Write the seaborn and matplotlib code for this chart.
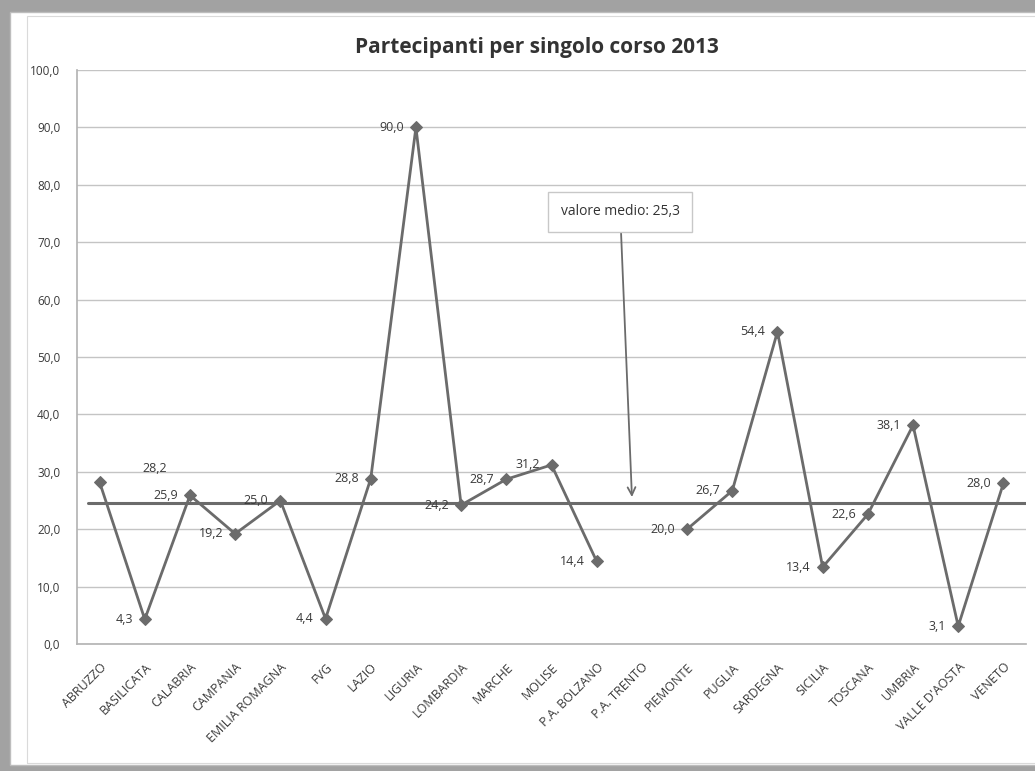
import numpy as np
import pandas as pd
import matplotlib
matplotlib.use("Agg")
import matplotlib.pyplot as plt
from matplotlib.patches import Rectangle
import seaborn as sns

regions = ["ABRUZZO", "BASILICATA", "CALABRIA", "CAMPANIA", "EMILIA ROMAGNA", "FVG",
           "LAZIO", "LIGURIA", "LOMBARDIA", "MARCHE", "MOLISE", "P.A. BOLZANO",
           "P.A. TRENTO", "PIEMONTE", "PUGLIA", "SARDEGNA", "SICILIA", "TOSCANA",
           "UMBRIA", "VALLE D'AOSTA", "VENETO"]
values = [28.2, 4.3, 25.9, 19.2, 25.0, 4.4, 28.8, 90.0, 24.2, 28.7, 31.2, 14.4,
          np.nan, 20.0, 26.7, 54.4, 13.4, 22.6, 38.1, 3.1, 28.0]
mean_line = 24.6
mean_label = "valore medio: 25,3"
title = "Partecipanti per singolo corso 2013"
yticks = [0, 10, 20, 30, 40, 50, 60, 70, 80, 90, 100]

sns.set_theme(style="white")
plt.rcParams['font.family'] = ['Open Sans', 'DejaVu Sans']

df = pd.DataFrame({"region": regions, "value": values, "pos": np.arange(len(regions))})
df["segment"] = df["value"].isna().cumsum()
df_valid = df.dropna()

fig = plt.figure(figsize=(10.35, 7.71), dpi=100, facecolor="#a2a2a2")
panel = Rectangle((10 / 1035, 6 / 771), 1.0, 1 - 18 / 771, transform=fig.transFigure,
                  facecolor="white", edgecolor="#bdbdbd", lw=1, zorder=-10)
fig.patches.append(panel)
frame = Rectangle((27 / 1035, 8 / 771), 1.0, 1 - 24 / 771, transform=fig.transFigure,
                  facecolor="none", edgecolor="#dadada", lw=0.8, zorder=-9)
fig.patches.append(frame)

ax = fig.add_axes([77 / 1035, 1 - 644 / 771, (1026 - 77) / 1035, (644 - 70) / 771])
ax.set_zorder(1)
ax.set_facecolor("white")

line_col = "#6b6b6b"
ax.axhline(mean_line, xmin=0.012, xmax=1.0, color=line_col, lw=2.2, zorder=2)

sns.lineplot(data=df_valid, x="pos", y="value", units="segment", estimator=None,
             color=line_col, lw=2, marker="D", markersize=6, markeredgecolor=line_col,
             ax=ax, zorder=3, legend=False)

for _, r in df_valid.iterrows():
    txt = f"{r['value']:.1f}".replace(".", ",")
    if r["region"] == "ABRUZZO":
        ax.annotate(txt, (r["pos"], r["value"]), xytext=(43, 14), textcoords="offset pixels",
                    ha="left", va="center", fontsize=9, color="#3a3a3a")
    else:
        ax.annotate(txt, (r["pos"], r["value"]), xytext=(-12, 0), textcoords="offset pixels",
                    ha="right", va="center", fontsize=9, color="#3a3a3a")

ax.annotate(mean_label, xy=(11.78, 25.6), xytext=(11.52, 75.3), textcoords="data",
            ha="center", va="center", fontsize=10, color="#333333",
            bbox=dict(boxstyle="square,pad=0.9", fc="white", ec="#c8c8c8", lw=1),
            arrowprops=dict(arrowstyle="->", color=line_col, lw=1.3, mutation_scale=14,
                            shrinkA=0, shrinkB=0))

ax.set_xlim(-0.5, len(regions) - 0.5)
ax.set_ylim(0, 100)
ax.set_yticks(yticks)
ax.set_yticklabels([f"{v:.1f}".replace(".", ",") for v in yticks], fontsize=8.5, color="#3a3a3a")
ax.set_xticks(df["pos"])
ax.set_xticklabels(regions, rotation=45, ha="right", rotation_mode="anchor",
                   fontsize=9, color="#3a3a3a")
ax.tick_params(axis="x", pad=12, length=0)
ax.tick_params(axis="y", pad=12, length=0)
ax.set_xlabel("")
ax.set_ylabel("")
ax.grid(axis="y", color="#c4c4c4", lw=1)
ax.set_axisbelow(True)
for s in ["top", "right"]:
    ax.spines[s].set_visible(False)
ax.spines["left"].set_color("#b5b5b5")
ax.spines["bottom"].set_color("#b5b5b5")

fig.text(537 / 1035, 1 - 48 / 771, title, ha="center", va="center",
         fontsize=15, fontweight="bold", color="#333333")

fig.savefig("out.png", dpi=100, facecolor=fig.get_facecolor())
